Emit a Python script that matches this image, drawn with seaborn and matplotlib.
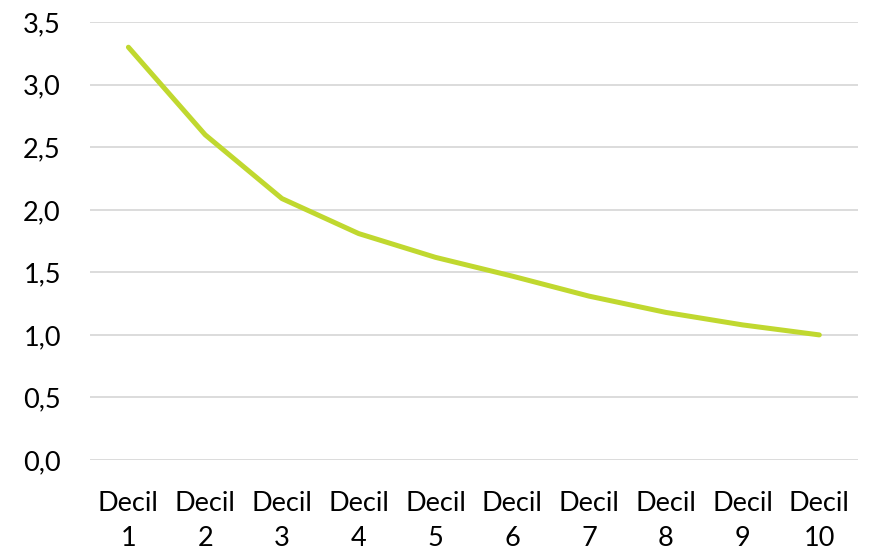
import matplotlib
matplotlib.use("Agg")
import matplotlib.pyplot as plt
import seaborn as sns
import pandas as pd
from matplotlib.ticker import FuncFormatter, MultipleLocator

categories = ["Decil\n1", "Decil\n2", "Decil\n3", "Decil\n4", "Decil\n5",
              "Decil\n6", "Decil\n7", "Decil\n8", "Decil\n9", "Decil\n10"]
values = [3.30, 2.60, 2.09, 1.81, 1.62, 1.47, 1.31, 1.18, 1.08, 1.00]

df = pd.DataFrame({"decil": categories, "valor": values})

sns.set_theme(style="white")
plt.rcParams['font.family'] = ['Lato', 'DejaVu Sans']

fig = plt.figure(figsize=(8.69, 5.55), dpi=100)
ax = fig.add_axes([0.1036, 0.1712, 0.8834, 0.7888])

sns.lineplot(data=df, x="decil", y="valor", ax=ax, color="#C0D82F",
             linewidth=3.6, solid_capstyle="round", sort=False)

ax.set_xlim(-0.5, 9.5)
ax.set_ylim(0, 3.5)
ax.yaxis.set_major_locator(MultipleLocator(0.5))
ax.yaxis.set_major_formatter(FuncFormatter(lambda v, p: f"{v:.1f}".replace(".", ",")))
ax.grid(axis="y", color="#D9D9D9", linewidth=1.3)
ax.set_axisbelow(True)
for s in ax.spines.values():
    s.set_visible(False)
ax.set_xlabel("")
ax.set_ylabel("")
ax.tick_params(axis="both", length=0, labelsize=19.5, colors="#000000")
ax.tick_params(axis="y", pad=21)
ax.tick_params(axis="x", pad=22)
for lbl in ax.get_xticklabels():
    lbl.set_linespacing(1.5)

fig.savefig("out.png", dpi=100)
